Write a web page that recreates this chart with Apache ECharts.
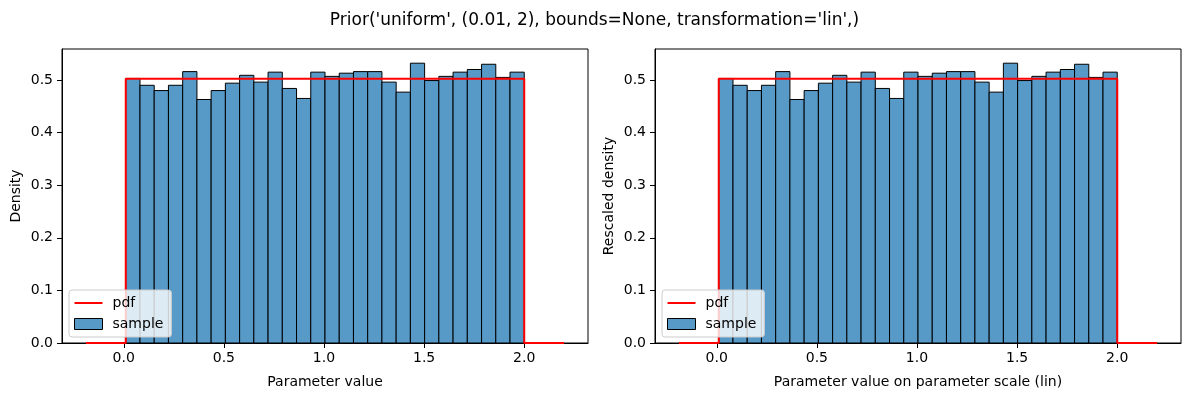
<!DOCTYPE html>
<html>
<head>
<meta charset="utf-8">
<script src="https://cdn.jsdelivr.net/npm/echarts@6/dist/echarts.min.js"></script>
<style>
    html, body { margin: 0; padding: 0; background: #fff; }
    #chart { width: 1189px; height: 397px; }
</style>
</head>
<body>
<div id="chart"></div>
<script>
    // histogram bins (28 bins between 0.01 and 2)
    var binEdges = [0.0100, 0.0811, 0.1521, 0.2232, 0.2943, 0.3654, 0.4364, 0.5075, 0.5786, 0.6496,
        0.7207, 0.7918, 0.8629, 0.9339, 1.0050, 1.0761, 1.1471, 1.2182, 1.2893, 1.3604,
        1.4314, 1.5025, 1.5736, 1.6446, 1.7157, 1.7868, 1.8579, 1.9289, 2.0000];
    var sampleDensity = [0.503, 0.490, 0.480, 0.490, 0.516, 0.463, 0.480, 0.494, 0.509, 0.496,
        0.515, 0.484, 0.465, 0.515, 0.507, 0.513, 0.516, 0.516, 0.496, 0.477,
        0.532, 0.499, 0.507, 0.515, 0.520, 0.530, 0.505, 0.515];
    var pdfX = [-0.189, 0.01, 0.01, 2.0, 2.0, 2.199];
    var pdfY = [0, 0, 0.5025, 0.5025, 0, 0];
    var xTicks = [0, 0.5, 1, 1.5, 2];
    var xMin = -0.3084, xMax = 2.3184;

    var font = 'DejaVu Sans';

    var histData = [];
    for (var i = 0; i < sampleDensity.length; i++) {
        histData.push([binEdges[i], binEdges[i + 1], sampleDensity[i]]);
    }
    var pdfData = pdfX.map(function (x, i) { return [x, pdfY[i]]; });

    function renderBar(params, api) {
        var p0 = api.coord([api.value(0), api.value(2)]);
        var p1 = api.coord([api.value(1), 0]);
        return {
            type: 'rect',
            shape: { x: p0[0], y: p0[1], width: p1[0] - p0[0], height: p1[1] - p0[1] },
            style: { fill: '#5799c7', stroke: '#000', lineWidth: 1 }
        };
    }

    function makeX(idx, name) {
        return {
            gridIndex: idx,
            type: 'value',
            min: xMin,
            max: xMax,
            name: name,
            nameLocation: 'middle',
            nameGap: 32,
            nameTextStyle: { color: '#000', fontSize: 14, fontFamily: font },
            splitLine: { show: false },
            axisLine: { show: true, onZero: false, lineStyle: { color: '#000', width: 1 } },
            axisTick: { show: true, length: 5, lineStyle: { color: '#000' }, customValues: xTicks },
            axisLabel: {
                color: '#000', fontSize: 14, fontFamily: font, margin: 8,
                customValues: xTicks,
                formatter: function (v) { return v.toFixed(1); }
            }
        };
    }

    function makeY(idx, name) {
        return {
            gridIndex: idx,
            type: 'value',
            min: 0,
            max: 0.559,
            interval: 0.1,
            name: name,
            nameLocation: 'middle',
            nameGap: 39,
            nameTextStyle: { color: '#000', fontSize: 14, fontFamily: font },
            splitLine: { show: false },
            axisLine: { show: true, onZero: false, lineStyle: { color: '#000', width: 1 } },
            axisTick: { show: true, length: 5, lineStyle: { color: '#000' } },
            axisLabel: {
                color: '#000', fontSize: 14, fontFamily: font, margin: 9,
                showMaxLabel: false,
                formatter: function (v) { return v.toFixed(1); }
            }
        };
    }

    function makeLegend(left) {
        return {
            left: left,
            top: 290,
            orient: 'vertical',
            itemWidth: 28,
            itemHeight: 11,
            itemGap: 7,
            padding: [6, 8, 6, 5],
            backgroundColor: 'rgba(255,255,255,0.8)',
            borderColor: '#cccccc',
            borderWidth: 1,
            borderRadius: 3,
            textStyle: { color: '#000', fontSize: 14, fontFamily: font, padding: [0, 0, 0, 5] },
            data: [
                { name: 'pdf', icon: 'path://M0,0 L28,0 L28,2 L0,2 Z', itemStyle: { color: '#ff0000' } },
                { name: 'sample', icon: 'rect', itemStyle: { color: '#5799c7', borderColor: '#000', borderWidth: 1 } }
            ]
        };
    }

    var myChart = echarts.init(document.getElementById('chart'), null, { renderer: 'canvas' });

    myChart.setOption({
        animation: false,
        title: {
            text: "Prior('uniform', (0.01, 2), bounds=None, transformation='lin',)",
            left: 'center',
            top: 7,
            textStyle: { color: '#000', fontSize: 17, fontWeight: 'normal', fontFamily: font }
        },
        legend: [makeLegend(69), makeLegend(662)],
        grid: [
            { left: 62, right: 601, top: 49, bottom: 54, show: true, borderColor: '#000', borderWidth: 1, backgroundColor: 'transparent' },
            { left: 655, right: 8, top: 49, bottom: 54, show: true, borderColor: '#000', borderWidth: 1, backgroundColor: 'transparent' }
        ],
        xAxis: [makeX(0, 'Parameter value'), makeX(1, 'Parameter value on parameter scale (lin)')],
        yAxis: [makeY(0, 'Density'), makeY(1, 'Rescaled density')],
        series: [
            {
                name: 'sample', type: 'custom', xAxisIndex: 0, yAxisIndex: 0,
                renderItem: renderBar, data: histData, encode: { x: [0, 1], y: 2 },
                itemStyle: { color: '#5799c7' }, z: 1
            },
            {
                name: 'pdf', type: 'line', xAxisIndex: 0, yAxisIndex: 0,
                data: pdfData, symbol: 'none', lineStyle: { color: '#ff0000', width: 2 },
                itemStyle: { color: '#ff0000' }, z: 3
            },
            {
                name: 'sample', type: 'custom', xAxisIndex: 1, yAxisIndex: 1,
                renderItem: renderBar, data: histData, encode: { x: [0, 1], y: 2 },
                itemStyle: { color: '#5799c7' }, z: 1
            },
            {
                name: 'pdf', type: 'line', xAxisIndex: 1, yAxisIndex: 1,
                data: pdfData, symbol: 'none', lineStyle: { color: '#ff0000', width: 2 },
                itemStyle: { color: '#ff0000' }, z: 3
            }
        ]
    })
</script>
</body>
</html>
